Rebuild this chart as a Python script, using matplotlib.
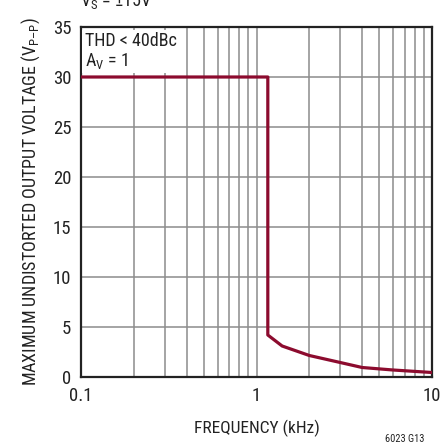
import matplotlib
matplotlib.use("Agg")
import matplotlib.pyplot as plt
from matplotlib import font_manager

names = {f.name for f in font_manager.fontManager.ttflist}
fam = next((n for n in ("Roboto Condensed", "Archivo Narrow", "Liberation Sans Narrow", "Liberation Sans") if n in names), "DejaVu Sans")
plt.rcParams['font.family'] = [fam, 'DejaVu Sans']
plt.rcParams['mathtext.fontset'] = 'custom'
plt.rcParams['mathtext.rm'] = fam
plt.rcParams['mathtext.it'] = fam
plt.rcParams['mathtext.default'] = 'rm'

# data (kHz, Vp-p)
freq_khz = [0.1, 1.16, 1.16, 1.2, 1.4, 2.0, 3.0, 4.0, 6.0, 10.0]
vout_vpp = [30.0, 30.0, 4.2, 4.0, 3.1, 2.15, 1.45, 0.95, 0.7, 0.45]

xticks = [0.1, 1, 10]
xticklabels = ["0.1", "1", "10"]
yticks = [0, 5, 10, 15, 20, 25, 30, 35]

W, H = 441, 448
fig = plt.figure(figsize=(W/100, H/100), dpi=100)
ax = fig.add_axes([81/W, (H-377)/H, 351/W, 350/H])

ax.set_xscale('log')
ax.set_xlim(0.1, 10)
ax.set_ylim(0, 35)

# grid
minor = [m*d for d in (0.1, 1) for m in range(2, 10)]
for x in minor + [1]:
    ax.axvline(x, color='#8c8c8c', lw=1.1, zorder=1)
for y in yticks[1:-1]:
    ax.axhline(y, color='#8c8c8c', lw=1.1, zorder=1)

ax.plot(freq_khz, vout_vpp, color='#8c0b2e', lw=2.3, zorder=3,
        solid_joinstyle='round', solid_capstyle='butt')

ax.set_xticks(xticks)
ax.set_xticklabels(xticklabels)
ax.xaxis.set_minor_locator(matplotlib.ticker.NullLocator())
ax.set_yticks(yticks)
ax.tick_params(length=0, labelsize=13.5, pad=7, colors='#222222')
ax.tick_params(axis='x', pad=7)
for s in ax.spines.values():
    s.set_linewidth(1.6)
    s.set_color('#222222')

ax.set_xlabel("FREQUENCY (kHz)", fontsize=12.5, labelpad=11, color='#222222')
ax.set_ylabel(r"MAXIMUM UNDISTORTED OUTPUT VOLTAGE (V$_{P–P}$)", fontsize=13,
              labelpad=8, color='#222222')

ax.text(0.105, 34.5, "THD < 40dBc\n" + r"A$_V$ = 1", fontsize=13, va='top', ha='left',
        linespacing=1.05, color='#222222', zorder=4,
        bbox=dict(facecolor='white', edgecolor='none', pad=2))

fig.text(80/W, 1 - 6/H, r"V$_S$ = ±15V", fontsize=13, ha='left', va='baseline', color='#222222')
fig.text(405/W, 1 - 442/H, "6023 G13", fontsize=7.5, ha='center', va='baseline', color='#222222')

fig.savefig("out.png", dpi=100)
